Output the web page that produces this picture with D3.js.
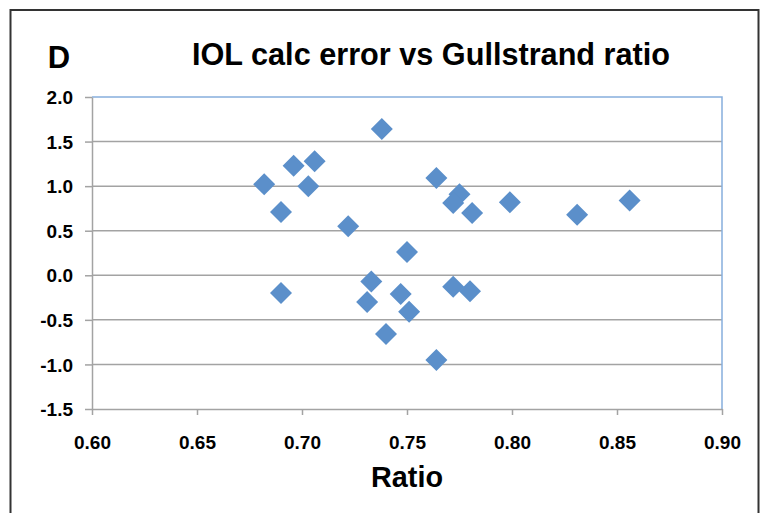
<!DOCTYPE html>
<html>
<head>
<meta charset="utf-8">
<script src="https://cdn.jsdelivr.net/npm/d3@7"></script>
<style>
  body { margin: 0; background: #fff; }
  text { font-family: "Liberation Sans", Arial, sans-serif; font-weight: bold; fill: #000; }
</style>
</head>
<body>
<div id="chart"></div>
<script>
// Data
const ratio = [0.738, 0.696, 0.706, 0.682, 0.703, 0.690, 0.722, 0.750, 0.764, 0.775,
  0.772, 0.781, 0.799, 0.831, 0.856, 0.690, 0.733, 0.731, 0.747, 0.751,
  0.740, 0.764, 0.772, 0.780];
const calcError = [1.64, 1.23, 1.28, 1.02, 1.00, 0.71, 0.55, 0.26, 1.09, 0.91,
  0.81, 0.70, 0.82, 0.68, 0.84, -0.20, -0.07, -0.30, -0.21, -0.41,
  -0.66, -0.95, -0.13, -0.18];
const xTicks = [0.60, 0.65, 0.70, 0.75, 0.80, 0.85, 0.90];
const yTicks = [-1.5, -1.0, -0.5, 0.0, 0.5, 1.0, 1.5, 2.0];

const svgWidth = 761;
const svgHeight = 513;
const margin = { top: 97, right: 39, bottom: 104, left: 92 };
const chartWidth = svgWidth - margin.left - margin.right;
const chartHeight = svgHeight - margin.top - margin.bottom;

const svg = d3.select("#chart")
  .append("svg")
  .attr("width", svgWidth)
  .attr("height", svgHeight);

// outer frame
svg.append("rect")
  .attr("x", 10.5)
  .attr("y", 10)
  .attr("width", 748)
  .attr("height", 520)
  .attr("fill", "none")
  .attr("stroke", "#333")
  .attr("stroke-width", 2);

const chartGroup = svg.append("g")
  .attr("transform", `translate(${margin.left}, ${margin.top})`);

const xScale = d3.scaleLinear().domain([0.6, 0.9]).range([0, chartWidth]);
const yScale = d3.scaleLinear().domain([-1.5, 2.0]).range([chartHeight, 0]);

// horizontal gridlines
chartGroup.append("g")
  .selectAll("line")
  .data(yTicks.slice(1, -1))
  .enter()
  .append("line")
  .attr("x1", 0)
  .attr("x2", chartWidth)
  .attr("y1", d => yScale(d))
  .attr("y2", d => yScale(d))
  .attr("stroke", "#a3a3a3")
  .attr("stroke-width", 1.5);

// blue plot border on top and right
chartGroup.append("path")
  .attr("d", `M0,${yScale(2)}H${chartWidth}V${chartHeight}`)
  .attr("fill", "none")
  .attr("stroke", "#86aedd")
  .attr("stroke-width", 1.5);

// axes (plain hyphen for negatives, like the original)
const bottomAxis = d3.axisBottom(xScale)
  .tickValues(xTicks)
  .tickFormat(d => d.toFixed(2))
  .tickSize(6)
  .tickSizeOuter(0);
const leftAxis = d3.axisLeft(yScale)
  .tickValues(yTicks)
  .tickFormat(d => d.toFixed(1))
  .tickSize(7)
  .tickSizeOuter(0);

const xAxisG = chartGroup.append("g")
  .attr("transform", `translate(0, ${chartHeight})`)
  .call(bottomAxis);
const yAxisG = chartGroup.append("g")
  .call(leftAxis);

[xAxisG, yAxisG].forEach(g => {
  g.select(".domain").attr("stroke", "#a3a3a3").attr("stroke-width", 1.5);
  g.selectAll(".tick line").attr("stroke", "#a3a3a3").attr("stroke-width", 1.5);
  g.selectAll(".tick text")
    .attr("fill", "#000")
    .style("font-size", "19px")
    .style("font-family", "'Liberation Sans', Arial, sans-serif")
    .style("font-weight", "bold");
});
xAxisG.selectAll(".tick text").attr("dy", "0").attr("y", 40);
yAxisG.selectAll(".tick text").attr("x", -19).attr("dy", "0.35em");

// diamond markers
const points = ratio.map((r, i) => ({ r: r, e: calcError[i] }));
chartGroup.selectAll("path.pt")
  .data(points)
  .enter()
  .append("path")
  .attr("class", "pt")
  .attr("d", d3.symbol(d3.symbolSquare, 242))
  .attr("transform", d => `translate(${xScale(d.r)}, ${yScale(d.e)}) rotate(45)`)
  .attr("fill", "#5b8fca");

// titles
svg.append("text")
  .attr("x", 431)
  .attr("y", 65)
  .attr("text-anchor", "middle")
  .attr("textLength", 478)
  .attr("lengthAdjust", "spacingAndGlyphs")
  .style("font-size", "32px")
  .text("IOL calc error vs Gullstrand ratio");

svg.append("text")
  .attr("x", 59)
  .attr("y", 68)
  .attr("text-anchor", "middle")
  .style("font-size", "31px")
  .text("D");

svg.append("text")
  .attr("x", 407)
  .attr("y", 487)
  .attr("text-anchor", "middle")
  .attr("textLength", 72)
  .attr("lengthAdjust", "spacingAndGlyphs")
  .style("font-size", "30px")
  .text("Ratio");
</script>
</body>
</html>
